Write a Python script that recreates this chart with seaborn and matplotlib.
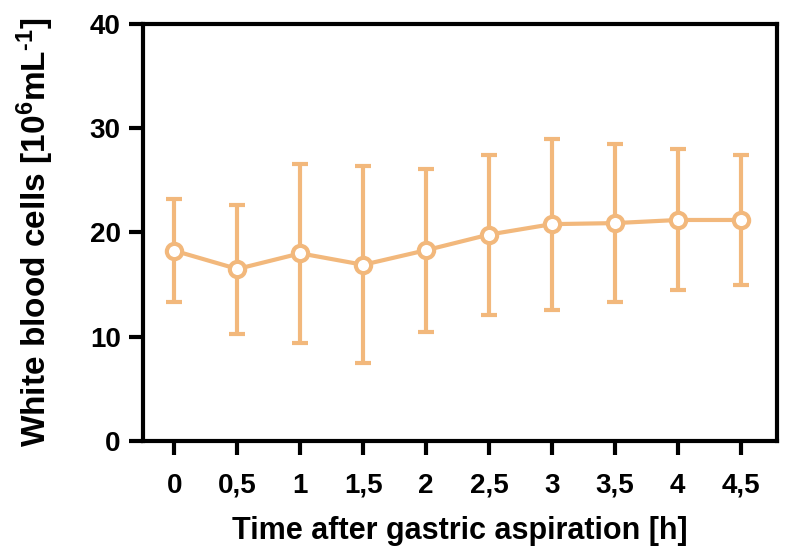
import matplotlib
matplotlib.use("Agg")
import matplotlib.pyplot as plt
import seaborn as sns
import numpy as np
import pandas as pd

time_labels = ["0", "0,5", "1", "1,5", "2", "2,5", "3", "3,5", "4", "4,5"]
mean_wbc = [18.25, 16.5, 18.0, 16.9, 18.3, 19.8, 20.8, 20.9, 21.2, 21.2]
upper_wbc = [23.2, 22.6, 26.6, 26.4, 26.1, 27.4, 29.0, 28.5, 28.0, 27.4]
lower_wbc = [13.3, 10.3, 9.4, 7.45, 10.5, 12.1, 12.6, 13.3, 14.5, 15.0]

color = "#F2B87C"

sns.set_theme(style="ticks")
plt.rcParams['font.family'] = ['Liberation Sans', 'DejaVu Sans']
plt.rcParams['font.weight'] = 'bold'
plt.rcParams['mathtext.fontset'] = 'custom'
plt.rcParams['mathtext.rm'] = 'Liberation Sans:bold'
plt.rcParams['mathtext.bf'] = 'Liberation Sans:bold'
plt.rcParams['mathtext.default'] = 'bf'
plt.rcParams['text.color'] = 'black'
plt.rcParams['axes.labelcolor'] = 'black'

df = pd.DataFrame({"pos": np.arange(len(time_labels)), "wbc": mean_wbc})

fig = plt.figure(figsize=(7.87, 5.54), dpi=100)
ax = fig.add_axes([0.1817, 0.204, 0.805, 0.7527])

yerr = [np.array(mean_wbc) - np.array(lower_wbc), np.array(upper_wbc) - np.array(mean_wbc)]
ax.errorbar(df["pos"], df["wbc"], yerr=yerr, fmt="none", ecolor=color,
            elinewidth=3, capsize=5.5, capthick=3, zorder=2)
sns.lineplot(data=df, x="pos", y="wbc", ax=ax, color=color, linewidth=3,
             marker="o", markersize=11, markerfacecolor="white",
             markeredgecolor=color, markeredgewidth=3, zorder=3)

ax.set_xlim(-0.5, 9.57)
ax.set_ylim(0, 40)
ax.set_yticks([0, 10, 20, 30, 40])
ax.set_xticks(range(len(time_labels)))
ax.set_xticklabels(time_labels)
ax.tick_params(axis="both", direction="out", length=10, width=3, colors="black",
               labelsize=20, pad=6)
ax.tick_params(axis="x", pad=13)
for lab in ax.get_xticklabels() + ax.get_yticklabels():
    lab.set_fontweight("bold")
for s in ax.spines.values():
    s.set_linewidth(3)
    s.set_color("black")
ax.set_xlabel("Time after gastric aspiration [h]", fontsize=22, fontweight="bold",
              labelpad=12, color="black")
ax.set_ylabel(r"White blood cells [10$^{6}$mL$^{\text{-1}}$]", fontsize=24,
              fontweight="bold", labelpad=24, color="black")
ax.grid(False)

fig.savefig("out.png", dpi=100)
